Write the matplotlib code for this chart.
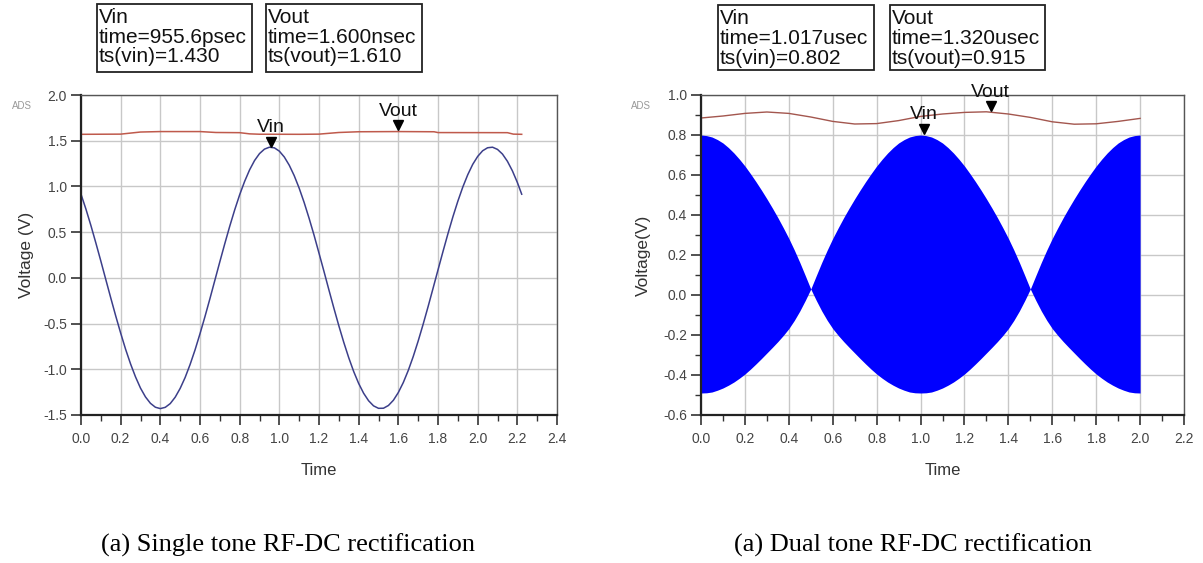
import numpy as np
import matplotlib.pyplot as plt
from matplotlib.patches import Rectangle
from matplotlib.ticker import MultipleLocator, FormatStrFormatter
from matplotlib.transforms import offset_copy

plt.rcParams['font.family'] = ['Liberation Sans', 'DejaVu Sans']

# ---- (a) single tone, time in nsec ----
t_single = np.round(np.arange(0, 2.2001, 0.025), 3).tolist() + [2.222]
vin_single = [0.915, 0.751, 0.572, 0.381, 0.184, -0.018, -0.219, -0.416, -0.604, -0.782,
              -0.942, -1.084, -1.206, -1.302, -1.372, -1.415, -1.430, -1.416, -1.375, -1.305,
              -1.209, -1.090, -0.948, -0.788, -0.611, -0.424, -0.228, -0.026, 0.176, 0.374,
              0.565, 0.744, 0.909, 1.055, 1.181, 1.283, 1.359, 1.408, 1.429, 1.422,
              1.386, 1.322, 1.232, 1.118, 0.981, 0.825, 0.652, 0.467, 0.270, 0.071,
              -0.132, -0.331, -0.524, -0.706, -0.874, -1.025, -1.155, -1.262, -1.344, -1.400,
              -1.427, -1.426, -1.396, -1.339, -1.254, -1.145, -1.013, -0.861, -0.691, -0.508,
              -0.315, -0.115, 0.087, 0.287, 0.482, 0.667, 0.838, 0.993, 1.128, 1.241,
              1.328, 1.390, 1.423, 1.429, 1.405, 1.354, 1.275, 1.171, 1.044, 0.915]
t_vout_single = [0.00, 0.20, 0.30, 0.40, 0.60, 0.68, 0.80, 0.85, 0.90, 1.10,
                 1.20, 1.30, 1.40, 1.60, 1.78, 1.80, 2.15, 2.18, 2.222]
vout_single = [1.570, 1.572, 1.595, 1.600, 1.600, 1.590, 1.588, 1.575, 1.571, 1.570,
               1.572, 1.590, 1.598, 1.600, 1.598, 1.589, 1.588, 1.572, 1.570]
single_markers = ['Vin', 'Vout']
single_marker_t = [0.9556, 1.600]
single_marker_v = [1.430, 1.610]
single_readout = [['Vin', 'time=955.6psec', 'ts(vin)=1.430'],
                  ['Vout', 'time=1.600nsec', 'ts(vout)=1.610']]

# ---- (b) dual tone, time in usec (carrier too dense to see: drawn as its envelope) ----
t_dual = np.round(np.arange(0, 2.0001, 0.025), 3)
vin_dual_upper = [0.800, 0.797, 0.790, 0.777, 0.760, 0.737, 0.710, 0.679, 0.645, 0.607,
                  0.567, 0.525, 0.481, 0.435, 0.387, 0.336, 0.283, 0.225, 0.163, 0.097,
                  0.030, 0.097, 0.163, 0.225, 0.283, 0.336, 0.387, 0.435, 0.481, 0.525,
                  0.567, 0.607, 0.645, 0.679, 0.710, 0.737, 0.760, 0.777, 0.790, 0.797,
                  0.800, 0.797, 0.790, 0.777, 0.760, 0.737, 0.710, 0.679, 0.645, 0.607,
                  0.567, 0.525, 0.481, 0.435, 0.387, 0.336, 0.283, 0.225, 0.163, 0.097,
                  0.030, 0.097, 0.163, 0.225, 0.283, 0.336, 0.387, 0.435, 0.481, 0.525,
                  0.567, 0.607, 0.645, 0.679, 0.710, 0.737, 0.760, 0.777, 0.790, 0.797,
                  0.800]
vin_dual_lower = [-0.490, -0.489, -0.485, -0.476, -0.465, -0.451, -0.435, -0.416, -0.395, -0.371,
                  -0.345, -0.318, -0.290, -0.262, -0.233, -0.202, -0.168, -0.127, -0.080, -0.027,
                  0.030, -0.027, -0.080, -0.127, -0.168, -0.202, -0.233, -0.262, -0.290, -0.318,
                  -0.345, -0.371, -0.395, -0.416, -0.435, -0.451, -0.465, -0.476, -0.485, -0.489,
                  -0.490, -0.489, -0.485, -0.476, -0.465, -0.451, -0.435, -0.416, -0.395, -0.371,
                  -0.345, -0.318, -0.290, -0.262, -0.233, -0.202, -0.168, -0.127, -0.080, -0.027,
                  0.030, -0.027, -0.080, -0.127, -0.168, -0.202, -0.233, -0.262, -0.290, -0.318,
                  -0.345, -0.371, -0.395, -0.416, -0.435, -0.451, -0.465, -0.476, -0.485, -0.489,
                  -0.490]
t_vout_dual = [0.0, 0.1, 0.2, 0.3, 0.4, 0.5, 0.6, 0.7, 0.8, 0.9, 1.0,
               1.1, 1.2, 1.3, 1.4, 1.5, 1.6, 1.7, 1.8, 1.9, 2.0]
vout_dual = [0.885, 0.895, 0.908, 0.915, 0.908, 0.890, 0.868, 0.855, 0.857, 0.872, 0.893,
             0.905, 0.913, 0.916, 0.905, 0.888, 0.866, 0.854, 0.856, 0.868, 0.883]
dual_markers = ['Vin', 'Vout']
dual_marker_t = [1.017, 1.320]
dual_marker_v = [0.802, 0.915]
dual_readout = [['Vin', 'time=1.017usec', 'ts(vin)=0.802'],
                ['Vout', 'time=1.320usec', 'ts(vout)=0.915']]

W, H = 1203, 563
fig = plt.figure(figsize=(W / 100, H / 100), dpi=100)


def px_axes(x0, y0, x1, y1):
    return fig.add_axes([x0 / W, 1 - y1 / H, (x1 - x0) / W, (y1 - y0) / H])


def readout_box(x0, y0, x1, y1, lines):
    fig.add_artist(Rectangle((x0 / W, 1 - y1 / H), (x1 - x0) / W, (y1 - y0) / H,
                             transform=fig.transFigure, fill=False, ec='#222222', lw=1.3))
    fig.text((x0 + 2) / W, 1 - (y0 + 4) / H, '\n'.join(lines), fontsize=15,
             ha='left', va='top', linespacing=1.05, color='#111111')


def style_axes(ax, xmax, ymin, ymax, ystep, yminor, ylabel, ylab_x):
    ax.set_xlim(0, xmax)
    ax.set_ylim(ymin, ymax)
    ax.xaxis.set_major_locator(MultipleLocator(0.2))
    ax.xaxis.set_minor_locator(MultipleLocator(0.1))
    ax.yaxis.set_major_locator(MultipleLocator(ystep))
    if yminor:
        ax.yaxis.set_minor_locator(MultipleLocator(yminor))
    ax.xaxis.set_major_formatter(FormatStrFormatter('%.1f'))
    ax.yaxis.set_major_formatter(FormatStrFormatter('%.1f'))
    ax.grid(True, which='major', color='#c8c8c8', lw=1.0)
    ax.set_axisbelow(True)
    ax.tick_params(which='major', direction='out', length=7, width=1.2,
                   labelsize=10, labelcolor='#444444', color='#333333')
    ax.tick_params(axis='x', which='major', pad=5)
    ax.tick_params(axis='y', which='major', pad=3)
    ax.tick_params(which='minor', direction='out', length=4, width=1.0, color='#333333')
    for side in ['left', 'bottom']:
        ax.spines[side].set_color('#222222')
        ax.spines[side].set_linewidth(1.6)
    for side in ['top', 'right']:
        ax.spines[side].set_color('#555555')
        ax.spines[side].set_linewidth(1.0)
    ax.set_xlabel('Time', fontsize=12, color='#333333')
    ax.xaxis.set_label_coords(0.5, -0.15)
    ax.set_ylabel(ylabel, fontsize=12.5, color='#333333')
    ax.yaxis.set_label_coords(ylab_x, 0.5)
    ax.text(-59 / 476, 1 - 11 / 320, 'ADS', transform=ax.transAxes, fontsize=7,
            color='#999999', ha='center', va='center')


def add_markers(ax, names, ts, vs):
    tri = offset_copy(ax.transData, fig=fig, x=0, y=4, units='points')
    for name, t, v in zip(names, ts, vs):
        ax.plot([t], [v], marker='v', ms=7, color='black', transform=tri,
                clip_on=False, zorder=5)
        ax.annotate(name, xy=(t, v), xytext=(0, 8), textcoords='offset points',
                    ha='center', va='bottom', fontsize=14, color='#111111', zorder=5)


# left panel
ax1 = px_axes(81, 95, 557, 415)
ax1.plot(t_vout_single, vout_single, color='#bf5a4c', lw=1.1)
ax1.plot(t_single, vin_single, color='#3c3f8a', lw=1.1)
style_axes(ax1, 2.4, -1.5, 2.0, 0.5, None, 'Voltage (V)', -0.099)
add_markers(ax1, single_markers, single_marker_t, single_marker_v)

# right panel
ax2 = px_axes(701, 95, 1184, 415)
ax2.fill_between(t_dual, vin_dual_lower, vin_dual_upper, color='#0000ff', lw=0)
ax2.plot(t_vout_dual, vout_dual, color='#a3564e', lw=1.0)
style_axes(ax2, 2.2, -0.6, 1.0, 0.2, 0.1, 'Voltage(V)', -0.104)
add_markers(ax2, dual_markers, dual_marker_t, dual_marker_v)

# marker readout boxes
readout_box(97, 4, 252, 72, single_readout[0])
readout_box(266, 4, 422, 72, single_readout[1])
readout_box(718, 5, 874, 70, dual_readout[0])
readout_box(890, 5, 1045, 70, dual_readout[1])

# captions
fig.text(288 / W, 1 - 545 / H, '(a) Single tone RF-DC rectification',
         family='Liberation Serif', fontsize=19, ha='center', va='center')
fig.text(913 / W, 1 - 545 / H, '(a) Dual tone RF-DC rectification',
         family='Liberation Serif', fontsize=19, ha='center', va='center')

fig.savefig('out.png', dpi=100)
